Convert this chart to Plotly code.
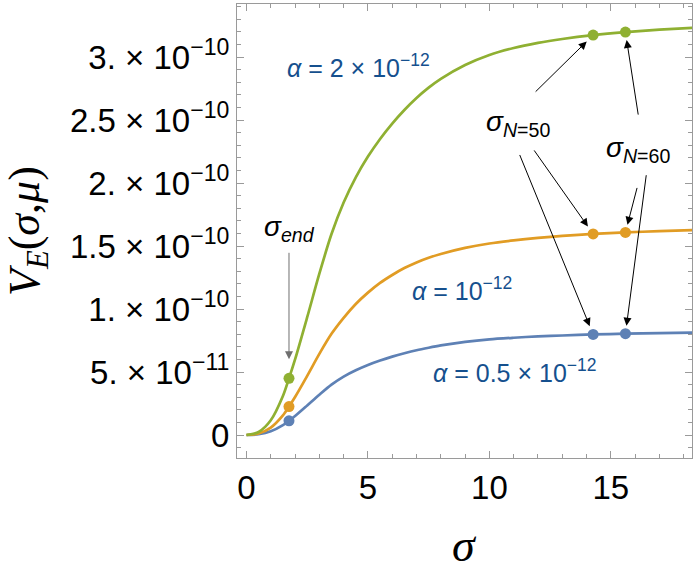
import plotly.graph_objects as go

# ---- data (V in units of 1e-11) ----
SCALE = 1e-11
sigma = [0, 0.5, 1.0, 1.5, 1.75, 2.0, 2.5, 3.0, 3.5, 4.0, 4.5, 5.0, 5.5, 6.0, 6.5, 7.0,
         7.5, 8.0, 9.0, 10.0, 11.0, 12.0, 13.0, 14.27, 15.6, 17.0, 18.35]
v_green = [0, 0.24, 1.17, 3.1, 4.5, 6.0, 9.35, 12.8, 15.95, 18.45, 20.45, 22.1, 23.5,
           24.72, 25.8, 26.75, 27.57, 28.27, 29.37, 30.17, 30.72, 31.12, 31.43, 31.74,
           31.98, 32.17, 32.32]
v_orange = [0, 0.12, 0.59, 1.56, 2.26, 3.02, 4.7, 6.44, 8.03, 9.3, 10.4, 11.3, 12.07,
            12.7, 13.25, 13.7, 14.07, 14.37, 14.85, 15.2, 15.45, 15.65, 15.81, 15.96,
            16.08, 16.18, 16.26]
v_blue = [0, 0.06, 0.29, 0.78, 1.13, 1.51, 2.35, 3.2, 4.0, 4.64, 5.14, 5.56, 5.91, 6.22,
          6.49, 6.73, 6.93, 7.11, 7.39, 7.59, 7.72, 7.83, 7.9, 7.98, 8.04, 8.09, 8.13]

# marked points: sigma_end, sigma_N=50, sigma_N=60
sigma_marks = [1.75, 14.27, 15.6]
green_marks = [4.5, 31.74, 31.98]
orange_marks = [2.26, 15.96, 16.08]
blue_marks = [1.13, 7.98, 8.04]

xtick_vals = [0, 5, 10, 15]
ytick_vals = [0, 5, 10, 15, 20, 25, 30]
ytick_text = ["0", "5. × 10<sup>−11</sup>", "1. × 10<sup>−10</sup>", "1.5 × 10<sup>−10</sup>",
              "2. × 10<sup>−10</sup>", "2.5 × 10<sup>−10</sup>", "3. × 10<sup>−10</sup>"]

BLUE = "#5E81B5"
ORANGE = "#E19C24"
GREEN = "#8FB032"
LABEL = "#15508E"
FRAME = "#9a9a9a"

fig = go.Figure()
for vals, marks, col in [(v_blue, blue_marks, BLUE), (v_orange, orange_marks, ORANGE),
                         (v_green, green_marks, GREEN)]:
    fig.add_trace(go.Scatter(x=sigma, y=[v * SCALE for v in vals], mode="lines",
                             line=dict(color=col, width=2.7, shape="spline", smoothing=0.8),
                             hoverinfo="skip", showlegend=False))
    fig.add_trace(go.Scatter(x=sigma_marks, y=[v * SCALE for v in marks], mode="markers",
                             marker=dict(color=col, size=11), hoverinfo="skip",
                             showlegend=False))

axis_common = dict(showline=True, linecolor=FRAME, linewidth=1, mirror="allticks",
                   ticks="inside", ticklen=7, tickcolor=FRAME, tickwidth=1,
                   showgrid=False, zeroline=False, automargin=False,
                   tickfont=dict(family="Liberation Sans, Arial", size=33, color="black"))

fig.update_xaxes(range=[-0.39, 18.34], tickvals=xtick_vals,
                 minor=dict(dtick=1, ticks="inside", ticklen=4, tickcolor=FRAME, showgrid=False),
                 **axis_common)
fig.update_yaxes(range=[-1.825e-11, 34.21e-11], tickvals=[v * SCALE for v in ytick_vals],
                 ticktext=ytick_text,
                 minor=dict(dtick=1e-11, ticks="inside", ticklen=4, tickcolor=FRAME, showgrid=False),
                 **axis_common)

lab_font = dict(family="Liberation Sans, Arial", size=25, color=LABEL)
blk_font = dict(family="Liberation Sans, Arial", size=28, color="black")
ann = []
# curve labels
ann.append(dict(x=4.61, y=29.3e-11, text="<i>α</i> = 2 × 10<sup>−12</sup>", showarrow=False,
                font=lab_font, xanchor="center", yanchor="middle"))
ann.append(dict(x=8.88, y=11.6e-11, text="<i>α</i> = 10<sup>−12</sup>", showarrow=False,
                font=lab_font, xanchor="center", yanchor="middle"))
ann.append(dict(x=11.06, y=5.1e-11, text="<i>α</i> = 0.5 × 10<sup>−12</sup>", showarrow=False,
                font=lab_font, xanchor="center", yanchor="middle"))
# point labels
ann.append(dict(x=1.77, y=16.4e-11, text="<i>σ</i><sub><i>end</i></sub>", showarrow=False,
                font=blk_font, xanchor="center", yanchor="middle"))
ann.append(dict(x=11.18, y=24.7e-11, text="<i>σ</i><sub><i>N</i>=50</sub>", showarrow=False,
                font=blk_font, xanchor="center", yanchor="middle"))
ann.append(dict(x=16.12, y=22.7e-11, text="<i>σ</i><sub><i>N</i>=60</sub>", showarrow=False,
                font=blk_font, xanchor="center", yanchor="middle"))

def arrow(xv, yv, ax, ay, standoff, color="black"):
    return dict(x=xv, y=yv * SCALE, ax=ax, ay=ay, text="", showarrow=True,
                arrowhead=2, arrowsize=1.6, arrowwidth=1, arrowcolor=color,
                standoff=standoff)

ann.append(arrow(sigma_marks[0], green_marks[0], 0, -127, 19, "#6f6f6f"))
ann.append(arrow(sigma_marks[1], green_marks[1], -59, 58, 9))
ann.append(arrow(sigma_marks[2], green_marks[2], 13, 84, 8))
ann.append(arrow(sigma_marks[1], orange_marks[1], -60, -85, 9))
ann.append(arrow(sigma_marks[1], blue_marks[1], -74, -181, 9))
ann.append(arrow(sigma_marks[2], orange_marks[2], 12, -46, 8))
ann.append(arrow(sigma_marks[2], blue_marks[2], 21, -160, 8))

# axis titles
ann.append(dict(xref="paper", yref="paper", x=(27 - 237) / 455, y=0.5,
                text="<i>V<sub>E</sub></i>(<i>σ</i>,<i>μ</i>)", textangle=-90, showarrow=False,
                font=dict(family="Liberation Serif, Times New Roman", size=44, color="black"),
                xanchor="center", yanchor="middle"))
ann.append(dict(xref="paper", yref="paper", x=0.5, y=(458 - 545) / 454,
                text="<i>σ</i>", showarrow=False,
                font=dict(family="Liberation Serif, Times New Roman", size=46, color="black"),
                xanchor="center", yanchor="middle"))

fig.update_layout(width=698, height=574, margin=dict(l=237, r=6, t=4, b=116),
                  paper_bgcolor="white", plot_bgcolor="white", annotations=ann,
                  hovermode=False)
fig.write_html("out.html", config={"displayModeBar": False, "staticPlot": True},
               post_script="document.body.style.margin='0';document.body.style.overflow='hidden';")
